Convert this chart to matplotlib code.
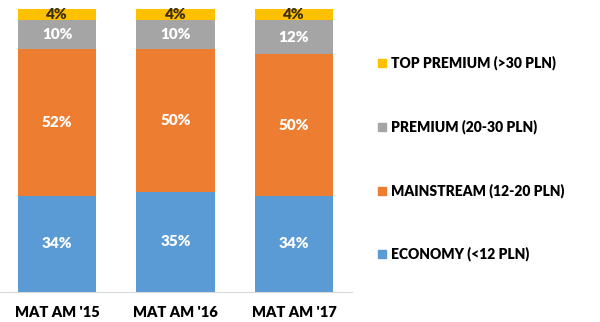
import numpy as np
import matplotlib.pyplot as plt
from matplotlib.patches import Rectangle

# data
categories = ["MAT AM '15", "MAT AM '16", "MAT AM '17"]
series = ["ECONOMY (<12 PLN)", "MAINSTREAM (12-20 PLN)", "PREMIUM (20-30 PLN)", "TOP PREMIUM (>30 PLN)"]
economy = [34, 35, 34]
mainstream = [52, 50, 50]
premium = [10, 10, 12]
top_premium = [4, 4, 4]

colors = ['#5B9BD5', '#ED7D31', '#A5A5A5', '#FFC000']
label_colors = ['white', 'white', 'white', '#3a2e10']

plt.rcParams['font.family'] = ['Lato', 'DejaVu Sans']
W = 'heavy'

fig = plt.figure(figsize=(6, 3.22), dpi=100)
ax = fig.add_axes([0, 30 / 322, 352 / 600, 283 / 322])

values = np.array([economy, mainstream, premium, top_premium], dtype=float)
shares = values / values.sum(axis=0)  # 100% stacked
x = np.arange(len(categories))
bottom = np.zeros(len(categories))
for i, name in enumerate(series):
    ax.bar(x, shares[i], 0.66, bottom=bottom, color=colors[i], label=name)
    for j in range(len(categories)):
        ax.text(x[j], bottom[j] + shares[i][j] / 2, f"{int(values[i][j])}%",
                ha='center', va='center', color=label_colors[i],
                fontsize=11, fontweight=W)
    bottom += shares[i]

ax.set_xlim(-57 / 118.5, 295 / 118.5)
ax.set_ylim(0, 1)
ax.set_yticks([])
ax.set_xticks(x)
ax.set_xticklabels(categories, fontsize=10.5, fontweight=W)
ax.tick_params(axis='x', length=0, pad=10)
for s in ['top', 'right', 'left']:
    ax.spines[s].set_visible(False)
ax.spines['bottom'].set_color('#D9D9D9')

# legend, top entry first
leg_y = [63, 127, 191, 254]
for k, i in enumerate(range(len(series) - 1, -1, -1)):
    yf = 1 - leg_y[k] / 322
    fig.patches.append(Rectangle((378 / 600, yf - 4 / 322), 8 / 600, 8 / 322,
                                 transform=fig.transFigure, color=colors[i]))
    fig.text(391 / 600, yf, series[i], ha='left', va='center',
             fontsize=10, fontweight=W, color='black')

fig.savefig('out.png', dpi=100)
